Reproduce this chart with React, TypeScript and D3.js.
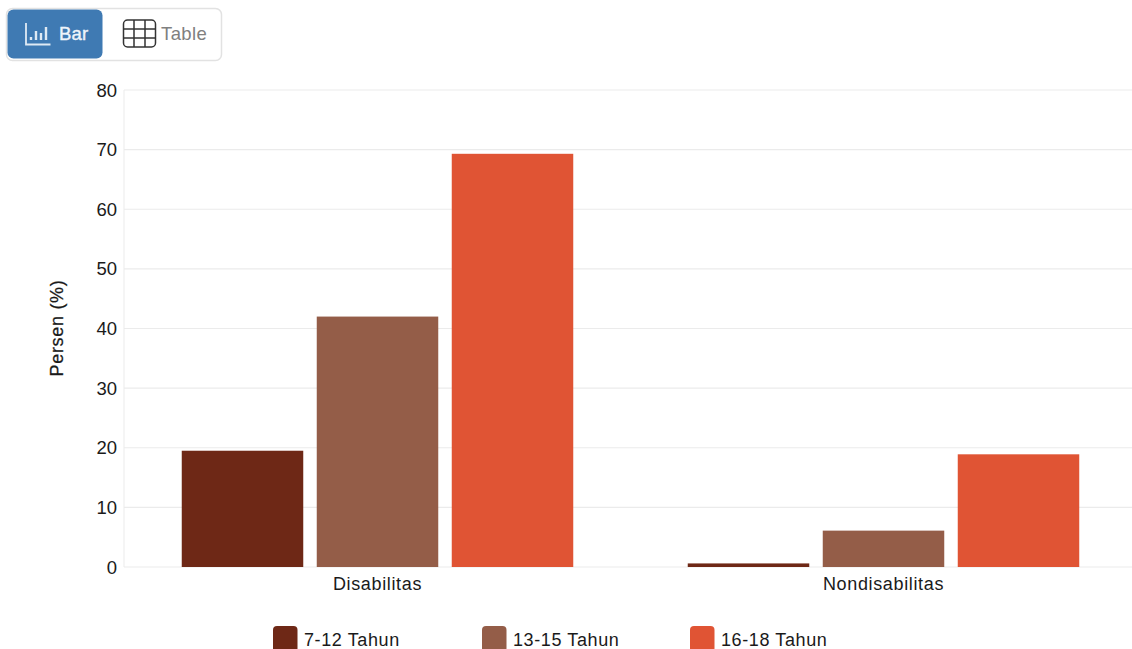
import React from "react";
import * as d3 from "d3";

const categories = ["Disabilitas", "Nondisabilitas"];
const seriesNames = ["7-12 Tahun", "13-15 Tahun", "16-18 Tahun"];
const seriesColors = ["#6e2816", "#945d48", "#e05434"];
const disabilitasValues = [19.5, 42, 69.3];
const nondisabilitasValues = [0.6, 6.1, 18.9];
const yTicks = [0, 10, 20, 30, 40, 50, 60, 70, 80];
const legendX = [273, 482, 690];

const FONT = "'Liberation Sans', Arial, sans-serif";
const W = 1132, H = 649;

export default function App() {
  const y = d3.scaleLinear().domain([0, 80]).range([567, 90]);
  const x0 = d3.scaleBand<string>().domain(categories).range([124.5, 1136.5]);
  const x1 = d3.scaleBand<string>().domain(seriesNames).range([57.25, 448.75]).paddingInner(0.1);
  const rows = [disabilitasValues, nondisabilitasValues];
  return (
    <svg width={W} height={H} viewBox={`0 0 ${W} ${H}`} style={{ position: "absolute", left: 0, top: 0, display: "block", background: "#fff" }} fontFamily={FONT}>
      {/* toggle */}
      <rect x={6.5} y={8.5} width={215} height={52} rx={6} fill="#fff" stroke="#e2e2e2" strokeWidth={1.5} />
      <rect x={7.5} y={9.5} width={95} height={49} rx={6} fill="#3f7ab3" />
      <g fill="none" stroke="#dfeaf4" strokeWidth={1.8}>
        <path d="M26 23V44.5H50.5" />
        <path d="M31 40V37M36 40V31M41 40V33M46 40V27" strokeWidth={2.4} />
      </g>
      <text x={59} y={40} fontSize={18.5} fill="#eef4fa" stroke="#eef4fa" strokeWidth={0.4} letterSpacing={0.2}>Bar</text>
      <g fill="none" stroke="#333" strokeWidth={1.5}>
        <rect x={123.5} y={20} width={32} height={27} rx={4} />
        <path d="M134 20V47M145 20V47M123.5 29H155.5M123.5 38H155.5" />
      </g>
      <text x={161} y={40} fontSize={18.5} fill="#808080" letterSpacing={0.4}>Table</text>

      {/* grid */}
      {yTicks.map((t) => (
        <g key={t}>
          <line x1={124} x2={W} y1={y(t)} y2={y(t)} stroke="#ebebeb" strokeWidth={1.2} />
          <text x={117} y={y(t) + 6.5} textAnchor="end" fontSize={18.5} fill="#1a1a1a">{t}</text>
        </g>
      ))}
      <line x1={124} x2={124} y1={90} y2={567} stroke="#ebebeb" strokeWidth={1} />
      <text transform="translate(63,328) rotate(-90)" textAnchor="middle" fontSize={18} fill="#1a1a1a" stroke="#1a1a1a" strokeWidth={0.25} letterSpacing={0.7}>Persen (%)</text>

      {/* bars */}
      {categories.map((c, i) => (
        <g key={c}>
          {seriesNames.map((s, j) => (
            <rect key={s} x={x0(c)! + x1(s)!} y={y(rows[i][j])} width={x1.bandwidth()} height={y(0) - y(rows[i][j])} fill={seriesColors[j]} />
          ))}
          <text x={x0(c)! + x0.bandwidth() / 2} y={590} textAnchor="middle" fontSize={18} fill="#1a1a1a" letterSpacing={0.65}>{c}</text>
        </g>
      ))}

      {/* legend */}
      {seriesNames.map((s, j) => (
        <g key={s}>
          <rect x={legendX[j]} y={626} width={24.5} height={26} rx={4} fill={seriesColors[j]} />
          <text x={legendX[j] + 31} y={646} fontSize={18} fill="#1a1a1a" letterSpacing={0.6}>{s}</text>
        </g>
      ))}
    </svg>
  );
}
